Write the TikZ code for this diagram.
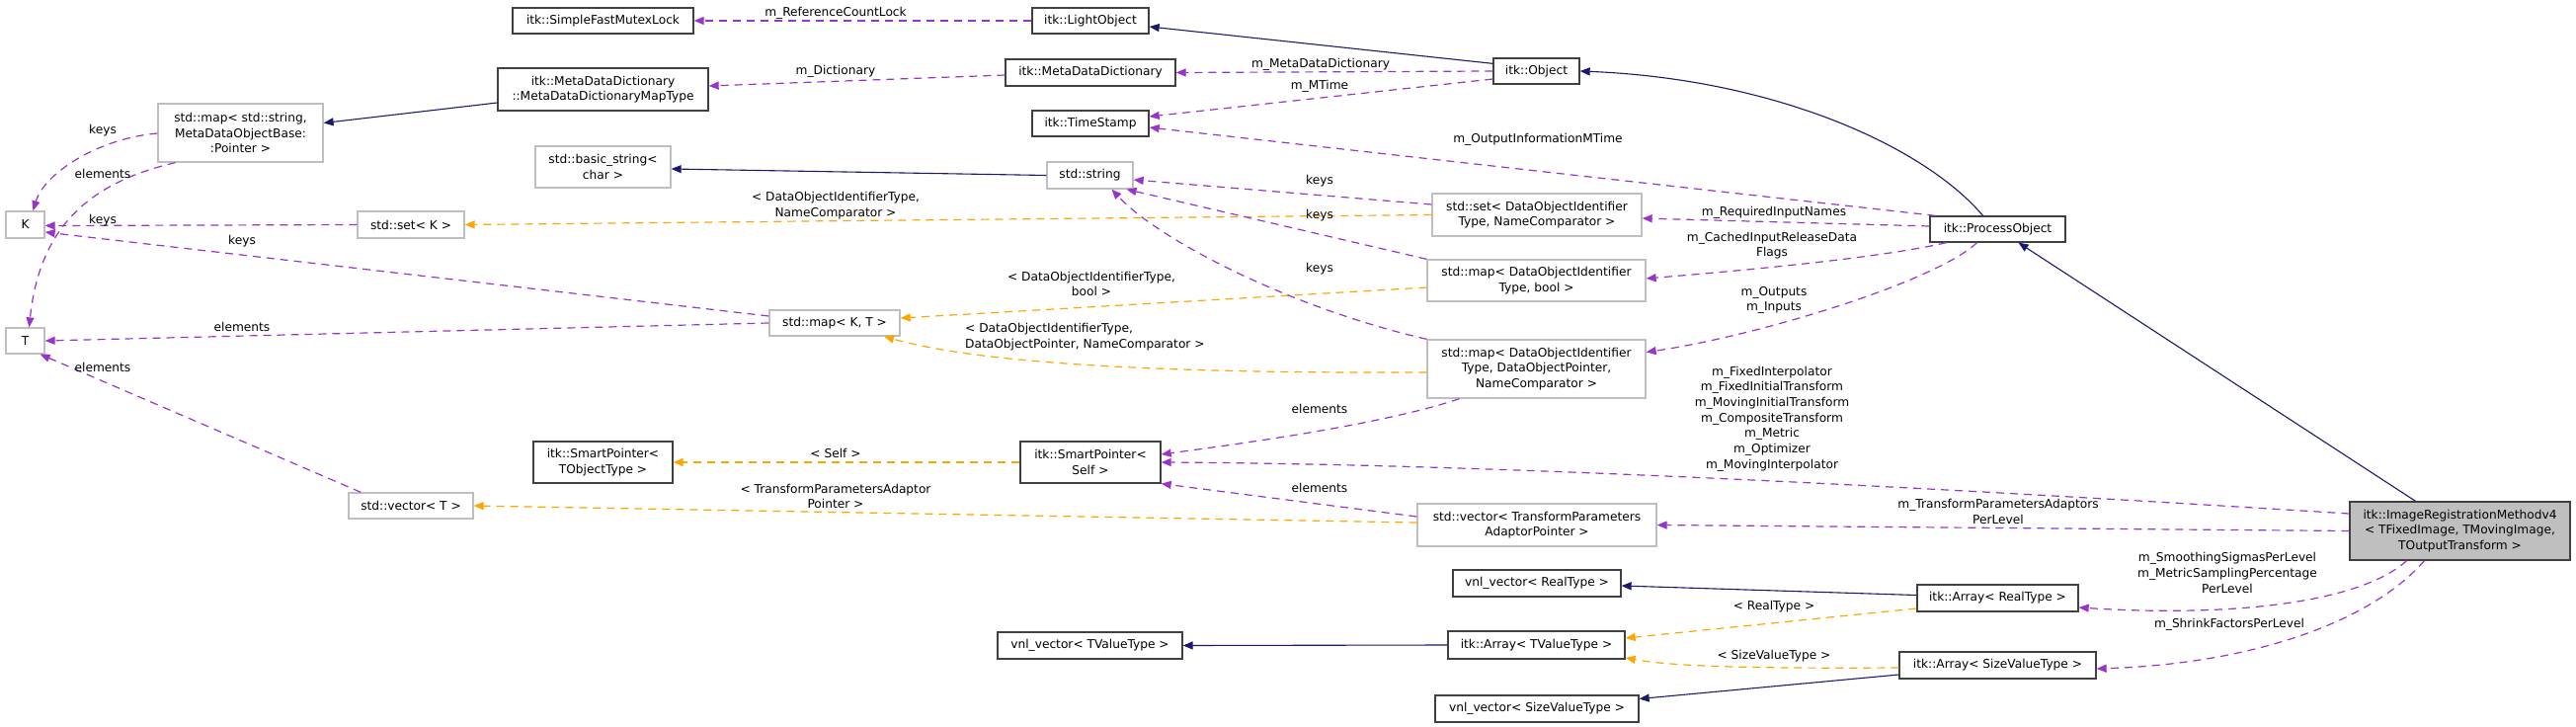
\documentclass[tikz,border=0pt]{standalone}
\usepackage{fontspec}
\setmainfont{DejaVu Sans}
\usetikzlibrary{arrows.meta}
\definecolor{midblue}{HTML}{191970}
\definecolor{orchid}{HTML}{9A32CD}
\definecolor{tmplorange}{HTML}{FFA500}
\definecolor{greyline}{HTML}{BFBFBF}
\definecolor{boxline}{HTML}{404040}
\begin{document}
\begin{tikzpicture}[x=1pt,y=-1pt,
  txt/.style={font=\fontsize{12.2}{15.7}\selectfont},
  sz/.style 2 args={minimum width=#1,minimum height=#2},
  nbox/.style={txt, draw=boxline, line width=1.3pt, fill=white, inner sep=0pt, align=center},
  gbox/.style={nbox, draw=greyline},
  lbl/.style={txt, inner sep=0pt, align=center},
  inh/.style={draw=midblue, line width=1.1pt, -{Triangle[length=10pt,width=8pt]}},
  tmpl/.style={draw=tmplorange, line width=1.2pt, dash pattern=on 8pt off 6pt, -{Triangle[length=10pt,width=8pt]}},
  use/.style={draw=orchid, line width=1.2pt, dash pattern=on 8pt off 6pt, -{Triangle[length=10pt,width=8pt]}}
]
\fill[white] (0,0) rectangle (2608,736);
\useasboundingbox (0,0) rectangle (2608,736);

% nodes
\node[nbox, sz={183pt}{26pt}] (sfml) at (610.5,21) {itk::SimpleFastMutexLock};
\node[nbox, sz={118pt}{26pt}] (lo) at (1104,21) {itk::LightObject};
\node[nbox, sz={213pt}{43pt}] (mdmt) at (610.5,90.5) {itk::MetaDataDictionary\\::MetaDataDictionaryMapType};
\node[nbox, sz={172pt}{27pt}] (mdd) at (1104,73.5) {itk::MetaDataDictionary};
\node[nbox, sz={118pt}{26pt}] (ts) at (1104,125) {itk::TimeStamp};
\node[nbox, sz={87pt}{26pt}] (obj) at (1555.5,72) {itk::Object};
\node[gbox, sz={167pt}{59pt}] (mapstr) at (243.5,134.5) {std::map< std::string,\\MetaDataObjectBase:\\:Pointer >};
\node[gbox, sz={137pt}{42pt}] (bstr) at (610.5,169) {std::basic\_string<\\char >};
\node[gbox, sz={87pt}{27pt}] (str) at (1103.5,177.5) {std::string};
\node[gbox, sz={39pt}{27pt}] (K) at (25.5,227.5) {K};
\node[gbox, sz={108pt}{27pt}] (setK) at (416,227.5) {std::set< K >};
\node[gbox, sz={212pt}{43pt}] (setDOI) at (1556,217.5) {std::set< DataObjectIdentifier\\Type, NameComparator >};
\node[nbox, sz={137pt}{26pt}] (po) at (2022.5,232) {itk::ProcessObject};
\node[gbox, sz={39pt}{26pt}] (T) at (25.5,345) {T};
\node[gbox, sz={132pt}{26pt}] (mapKT) at (845,327) {std::map< K, T >};
\node[gbox, sz={221pt}{42pt}] (mapDOIb) at (1555.5,284) {std::map< DataObjectIdentifier\\Type, bool >};
\node[gbox, sz={221pt}{59pt}] (mapDOIp) at (1555.5,373.5) {std::map< DataObjectIdentifier\\Type, DataObjectPointer,\hspace*{40pt}\\NameComparator >};
\node[nbox, sz={141pt}{42pt}] (spT) at (610.5,468) {itk::SmartPointer<\\TObjectType >};
\node[nbox, sz={142pt}{42pt}] (spS) at (1104,468) {itk::SmartPointer<\\Self >};
\node[gbox, sz={126pt}{26pt}] (vecT) at (416,512) {std::vector< T >};
\node[gbox, sz={242pt}{43pt}] (vecTP) at (1556,531.5) {std::vector< TransformParameters\\AdaptorPointer >};
\node[nbox, fill=greyline, sz={223pt}{59pt}] (irm) at (2490.5,537.5) {itk::ImageRegistrationMethodv4\\< TFixedImage, TMovingImage,\\TOutputTransform >};
\node[nbox, sz={170pt}{27pt}] (vnlR) at (1556,590.5) {vnl\_vector< RealType >};
\node[nbox, sz={163pt}{27pt}] (arrR) at (2022.5,605.5) {itk::Array< RealType >};
\node[nbox, sz={179pt}{28pt}] (arrTV) at (1555.5,653) {itk::Array< TValueType >};
\node[nbox, sz={187pt}{27pt}] (vnlTV) at (1103.5,653.5) {vnl\_vector< TValueType >};
\node[nbox, sz={206pt}{27pt}] (vnlS) at (1556,717.5) {vnl\_vector< SizeValueType >};
\node[nbox, sz={199pt}{27pt}] (arrS) at (2022.5,673.5) {itk::Array< SizeValueType >};

% inheritance
\draw[inh] ([yshift=-6pt]obj.north west) -- ([yshift=-6pt]lo.east);
\draw[inh] ([xshift=-15pt]po.north) .. controls (1950,150) and (1800,80) .. (obj.east);
\draw[inh] ([yshift=-13.5pt]mdmt.west) -- ([yshift=10pt]mapstr.east);
\draw[inh] (str.west) -- ([yshift=-2pt]bstr.east);
\draw[inh] ([xshift=-45pt]irm.north) -- ([xshift=21pt]po.south);
\draw[inh] ([yshift=3pt]arrR.west) -- ([yshift=-2.5pt]vnlR.east);
\draw[inh] (arrTV.west) -- (vnlTV.east);
\draw[inh] ([yshift=-9.5pt]arrS.west) -- ([yshift=10pt]vnlS.east);

% template instances
\draw[tmpl] (setDOI.west) -- (setK.east);
\node[lbl] (l9) at (846,208) {< DataObjectIdentifierType,\\NameComparator >};
\draw[tmpl] ([yshift=-7pt]mapDOIb.west) -- ([yshift=5pt]mapKT.east);
\node[lbl] (l10) at (1105,287.5) {< DataObjectIdentifierType,\\bool >};
\draw[tmpl] ([yshift=-3.5pt]mapDOIp.west) .. controls (1200,378) and (1000,370) .. ([xshift=50pt]mapKT.south);
\node[lbl, align=left, anchor=west] (l11) at (977,341) {< DataObjectIdentifierType,\\DataObjectPointer, NameComparator >};
\draw[tmpl] (spS.west) -- (spT.east);
\node[lbl] (l12) at (846,459) {< Self >};
\draw[tmpl] ([yshift=2.5pt]vecTP.west) -- (vecT.east);
\node[lbl] (l13) at (846,502.5) {< TransformParametersAdaptor\\Pointer >};
\draw[tmpl] ([yshift=-10.5pt]arrR.west) -- ([yshift=7pt]arrTV.east);
\node[lbl] (l14) at (1796,614) {< RealType >};
\draw[tmpl] ([yshift=-2.5pt]arrS.west) .. controls (1760,677) and (1690,674) .. ([yshift=-13pt]arrTV.east);
\node[lbl] (l15) at (1796,664) {< SizeValueType >};

% usage
\draw[use] (lo.west) -- (sfml.east);
\node[lbl] (l16) at (846,13) {m\_ReferenceCountLock};
\draw[use] ([yshift=-2.5pt]mdd.west) -- ([yshift=3.5pt]mdmt.east);
\node[lbl] (l17) at (846,72) {m\_Dictionary};
\draw[use] (obj.west) -- (mdd.east);
\node[lbl] (l18) at (1337,65) {m\_MetaDataDictionary};
\draw[use] ([yshift=-8pt]obj.west) -- ([yshift=7pt]ts.east);
\node[lbl] (l19) at (1336,87) {m\_MTime};
\draw[use] ([xshift=6pt]po.north west) -- ([yshift=-4pt]ts.east);
\node[lbl] (l20) at (1557,141) {m\_OutputInformationMTime};
\draw[use] ([yshift=10.5pt]setDOI.west) -- ([yshift=-4.5pt]str.east);
\node[lbl] (l21) at (1336,183) {keys};
\draw[use] (mapDOIb.north west) -- ([xshift=37pt]str.south);
\node[lbl] (l22) at (1336,218) {keys};
\draw[use] (mapDOIp.north west) .. controls (1300,310) and (1170,240) .. ([xshift=22pt]str.south);
\node[lbl] (l23) at (1336,272) {keys};
\draw[use] ([yshift=-0.5pt]mapstr.west) .. controls (100,140) and (45,175) .. ([xshift=8pt]K.north);
\node[lbl] (l24) at (104,132) {keys};
\draw[use] ([xshift=-66pt]mapstr.south) .. controls (90,185) and (40,230) .. ([xshift=4pt]T.north);
\node[lbl] (l25) at (104,176) {elements};
\draw[use] (setK.west) -- ([yshift=-1pt]K.east);
\node[lbl] (l26) at (104,223) {keys};
\draw[use] ([yshift=7pt]mapKT.west) -- ([yshift=-7.5pt]K.east);
\node[lbl] (l27) at (245,244) {keys};
\draw[use] (mapKT.west) -- (T.east);
\node[lbl] (l28) at (245,331) {elements};
\draw[use] ([xshift=13pt]vecT.north west) -- ([xshift=-5pt]T.south east);
\node[lbl] (l29) at (104,372) {elements};
\draw[use] ([xshift=-78pt]mapDOIp.south) .. controls (1400,430) and (1250,450) .. ([yshift=8pt]spS.east);
\node[lbl] (l30) at (1336,414) {elements};
\draw[use] ([yshift=17.5pt]irm.west) .. controls (1900,490) and (1500,470) .. (spS.east);
\node[lbl] (l31) at (1794,424) {m\_FixedInterpolator\\m\_FixedInitialTransform\\m\_MovingInitialTransform\\m\_CompositeTransform\\m\_Metric\\m\_Optimizer\\m\_MovingInterpolator};
\draw[use] ([yshift=8.5pt]vecTP.west) -- (spS.south east);
\node[lbl] (l32) at (1336,494) {elements};
\draw[use] (irm.west) -- (vecTP.east);
\node[lbl] (l33) at (2023,518) {m\_TransformParametersAdaptors\\PerLevel};
\draw[use] ([xshift=-52pt]po.south) .. controls (1900,262) and (1750,275) .. ([yshift=2pt]mapDOIb.east);
\node[lbl] (l34) at (1794,248.5) {m\_CachedInputReleaseData\\Flags};
\draw[use] ([xshift=-21pt]po.south) .. controls (1960,285) and (1780,340) .. ([yshift=17pt]mapDOIp.east);
\node[lbl] (l35) at (1796,304) {m\_Outputs\\m\_Inputs};
\draw[use] ([yshift=3pt]po.west) -- ([yshift=-3.5pt]setDOI.east);
\node[lbl] (l36) at (1796,215) {m\_RequiredInputNames};
\draw[use] ([xshift=-54pt]irm.south) .. controls (2390,610) and (2260,625) .. ([yshift=-9.5pt]arrR.east);
\node[lbl] (l37) at (2255,580) {m\_SmoothingSigmasPerLevel\\m\_MetricSamplingPercentage\\PerLevel};
\draw[use] ([xshift=-36pt]irm.south) .. controls (2400,630) and (2280,672) .. ([yshift=-3.5pt]arrS.east);
\node[lbl] (l38) at (2257,632) {m\_ShrinkFactorsPerLevel};
\end{tikzpicture}
\end{document}
